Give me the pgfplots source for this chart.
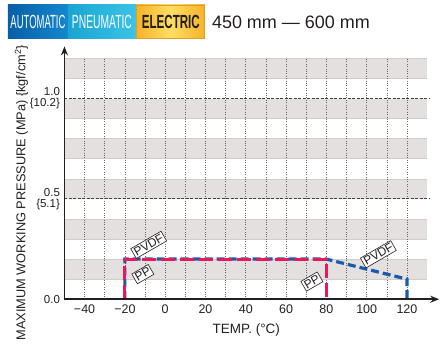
\documentclass[border=0pt]{standalone}
\usepackage{fontspec}
\setmainfont{Liberation Sans}
\usepackage{graphicx}
\usepackage{pgfplots}
\pgfplotsset{compat=1.18}
\usetikzlibrary{arrows.meta}
\definecolor{ppred}{RGB}{230,25,90}
\definecolor{pvblue}{RGB}{25,90,170}
\definecolor{band}{RGB}{227,224,223}
\definecolor{bandedge}{RGB}{208,204,203}
\definecolor{txt}{RGB}{35,31,32}
\definecolor{autoA}{RGB}{8,95,168}
\definecolor{autoB}{RGB}{20,135,205}
\definecolor{pneuA}{RGB}{25,165,210}
\definecolor{pneuB}{RGB}{60,195,230}
\definecolor{elecA}{RGB}{247,178,40}
\definecolor{elecB}{RGB}{253,222,100}
\newcommand{\fs}[1]{\fontsize{#1}{#1}\selectfont}

\begin{document}
\begin{tikzpicture}[x=1pt,y=1pt]
\path (0,0) rectangle (440,344);
% header
\shade[left color=autoA, right color=autoB] (8,305) rectangle (68,339);
\shade[left color=pneuA, right color=pneuB] (68,305) rectangle (136,339);
\shade[left color=elecA, right color=elecA, middle color=elecB] (136,305) rectangle (205,339);
\draw[elecA!90!black, line width=0.6] (136.3,305.3) rectangle (204.7,338.7);
\node[text=white, inner sep=0] at (38,322) {\resizebox{55pt}{13.3pt}{AUTOMATIC}};
\node[text=white, inner sep=0] at (102,322) {\resizebox{60pt}{13.3pt}{PNEUMATIC}};
\node[text=txt, inner sep=0] at (171,322) {\resizebox{58pt}{13.3pt}{\bfseries ELECTRIC}};
\node[text=txt, anchor=west, inner sep=0] at (212,321.5) {\fs{18}450 mm — 600 mm};
% axis labels
\node[text=txt, rotate=90, anchor=base, inner sep=0] at (25.5,151) {\fs{12.8}MAXIMUM WORKING PRESSURE (MPa) \{kgf/cm\textsuperscript{2}\}};
\node[text=txt, anchor=base, inner sep=0] at (246.5,10) {\fs{13.5}TEMP. (°C)};
\begin{axis}[
  at={(64.5pt,44.5pt)}, anchor=south west,
  scale only axis, width=363pt, height=241pt,
  xmin=-50, xmax=130, ymin=0, ymax=1.2,
  axis lines*=left, axis line style={draw=none},
  major tick length=0pt, minor tick length=0pt,
  xtick={-40,-20,...,120},
  xticklabels={−40,−20,0,20,40,60,80,100,120},
  minor xtick={-30,-10,...,110},
  xmajorgrids, xminorgrids,
  major grid style={dotted, black!60, line width=0.6pt},
  minor grid style={dotted, black!60, line width=0.6pt},
  ytick={0,0.5,1},
  yticklabels={0.0,{0.5\\[-0.5pt]\{5.1\}},{1.0\\[-0.5pt]\{10.2\}}},
  xticklabel style={font=\fs{12.5}, text=txt, yshift=-2.5pt},
  yticklabel style={font=\fs{11.5}, text=txt, align=right, xshift=-1pt},
  clip=false,
  set layers,
]
\begin{pgfonlayer}{axis background}
\fill[band] (axis cs:-50,0.1) rectangle (axis cs:130,0.2);
\fill[band] (axis cs:-50,0.3) rectangle (axis cs:130,0.4);
\fill[band] (axis cs:-50,0.5) rectangle (axis cs:130,0.6);
\fill[band] (axis cs:-50,0.7) rectangle (axis cs:130,0.8);
\fill[band] (axis cs:-50,0.9) rectangle (axis cs:130,1.0);
\fill[band] (axis cs:-50,1.1) rectangle (axis cs:130,1.2);
\pgfplotsinvokeforeach{0.1,0.2,0.3,0.4,0.6,0.7,0.8,0.9,1.1,1.2}{
  \draw[bandedge, line width=0.6pt] (axis cs:-50,#1) -- (axis cs:130,#1);
}
\end{pgfonlayer}
\draw[black!75, line width=0.9pt, dash pattern=on 3pt off 1.5pt] (axis cs:-50,0.5) -- (axis cs:131,0.5);
\draw[black!75, line width=0.9pt, dash pattern=on 3pt off 1.5pt] (axis cs:-50,1.0) -- (axis cs:131,1.0);
% data
\addplot[pvblue, line width=3.2pt, dash pattern=on 8pt off 4pt, line join=miter] coordinates {(-20,0) (-20,0.2) (80,0.2) (120,0.1) (120,0)};
\addplot[ppred, line width=3pt, dash pattern=on 14pt off 5pt, line join=miter] coordinates {(-20,0) (-20,0.2) (80,0.2) (80,0)};
% tags
\node[draw=txt, fill=white, text=txt, rotate=30, inner sep=1.5pt, line width=0.6pt, font=\fs{12}] at (axis cs:-8.2,0.271) {PVDF};
\node[draw=txt, fill=white, text=txt, rotate=30, inner sep=1.5pt, line width=0.6pt, font=\fs{12}] at (axis cs:-11.1,0.125) {PP};
\node[draw=txt, fill=white, text=txt, rotate=30, inner sep=1.5pt, line width=0.6pt, font=\fs{12}] at (axis cs:72.8,0.088) {PP};
\node[draw=txt, fill=white, text=txt, rotate=30, inner sep=1.5pt, line width=0.6pt, font=\fs{12}] at (axis cs:105.8,0.224) {PVDF};
% axes
\draw[txt, line width=1.6pt, -{Stealth[length=9pt,width=7pt]}] (axis cs:-50,0) -- (axis cs:136,0);
\draw[txt, line width=1.6pt, -{Stealth[length=9pt,width=7pt]}] (axis cs:-50,-0.004) -- (axis cs:-50,1.26);
\end{axis}
\end{tikzpicture}
\end{document}
